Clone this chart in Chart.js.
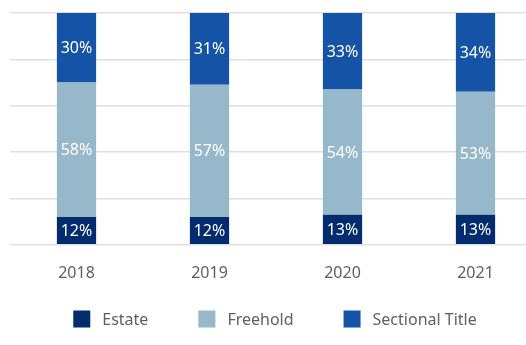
<!DOCTYPE html>
<html>
<head>
<meta charset="utf-8">
<script src="https://cdn.jsdelivr.net/npm/chart.js@4/dist/chart.umd.min.js"></script>
<style>
  html, body { margin: 0; padding: 0; background: #fff; overflow: hidden; }
  #wrap { width: 526px; height: 345px; overflow: hidden; }
  #box { position: relative; width: 542px; height: 345px; }
</style>
</head>
<body>
<div id="wrap"><div id="box"><canvas id="ownershipChart"></canvas></div></div>
<script>
const years = ['2018', '2019', '2020', '2021'];
const estate = [12, 12, 13, 13];
const freehold = [58, 57, 54, 53];
const sectionalTitle = [30, 31, 33, 34];
const yTicks = [0, 20, 40, 60, 80, 100];

const FONT = '"Noto Sans", "Open Sans", sans-serif';
const TEXT_GREY = '#5f5f5f';

// Writes each segment's share in the middle of its bar
const segmentLabels = {
  id: 'segmentLabels',
  afterDatasetsDraw(chart) {
    const ctx = chart.ctx;
    ctx.save();
    ctx.fillStyle = '#ffffff';
    ctx.font = '16px ' + FONT;
    ctx.textAlign = 'center';
    ctx.textBaseline = 'middle';
    chart.data.datasets.forEach((ds, i) => {
      chart.getDatasetMeta(i).data.forEach((bar, j) => {
        const mid = (bar.y + bar.base) / 2;
        ctx.fillText(ds.data[j] + '%', bar.x, mid + 1);
      });
    });
    ctx.restore();
  }
};

// Legend row under the axis, spaced wider than the built-in legend allows
const bottomLegend = {
  id: 'bottomLegend',
  afterDraw(chart) {
    const ctx = chart.ctx;
    const box = 17, textGap = 12, itemGap = 50, cy = 319;
    ctx.save();
    ctx.font = '16px ' + FONT;
    ctx.textBaseline = 'middle';
    const items = chart.data.datasets.map(ds => ({
      label: ds.label, color: ds.backgroundColor, w: ctx.measureText(ds.label).width
    }));
    const total = items.reduce((s, it) => s + box + textGap + it.w, 0) + itemGap * (items.length - 1);
    let x = 275 - total / 2;
    items.forEach(it => {
      ctx.fillStyle = it.color;
      ctx.fillRect(x, cy - box / 2, box, box);
      x += box + textGap;
      ctx.fillStyle = TEXT_GREY;
      ctx.fillText(it.label, x, cy + 1);
      x += it.w + itemGap;
    });
    ctx.restore();
  }
};

const ctx = document.getElementById('ownershipChart').getContext('2d');
new Chart(ctx, {
  type: 'bar',
  data: {
    labels: years,
    datasets: [
      { label: 'Estate', data: estate, backgroundColor: '#032c6f' },
      { label: 'Freehold', data: freehold, backgroundColor: '#97b7ca' },
      { label: 'Sectional Title', data: sectionalTitle, backgroundColor: '#1553a6' }
    ]
  },
  options: {
    responsive: true,
    maintainAspectRatio: false,
    animation: false,
    layout: { padding: { left: 10, right: 0, top: 13, bottom: 51 } },
    datasets: {
      bar: { categoryPercentage: 1, barPercentage: 0.295 }
    },
    scales: {
      x: {
        stacked: true,
        grid: { display: false },
        border: { display: false },
        ticks: { color: TEXT_GREY, font: { family: FONT, size: 16 }, padding: 11 }
      },
      y: {
        stacked: true,
        min: 0,
        max: 100,
        afterBuildTicks: (axis) => { axis.ticks = yTicks.map(v => ({ value: v })); },
        ticks: { display: false },
        grid: { color: '#e0e0e0', lineWidth: 1.5, drawTicks: false },
        border: { display: false }
      }
    },
    plugins: {
      legend: { display: false },
      tooltip: { enabled: false }
    }
  },
  plugins: [segmentLabels, bottomLegend]
});
</script>
</body>
</html>
